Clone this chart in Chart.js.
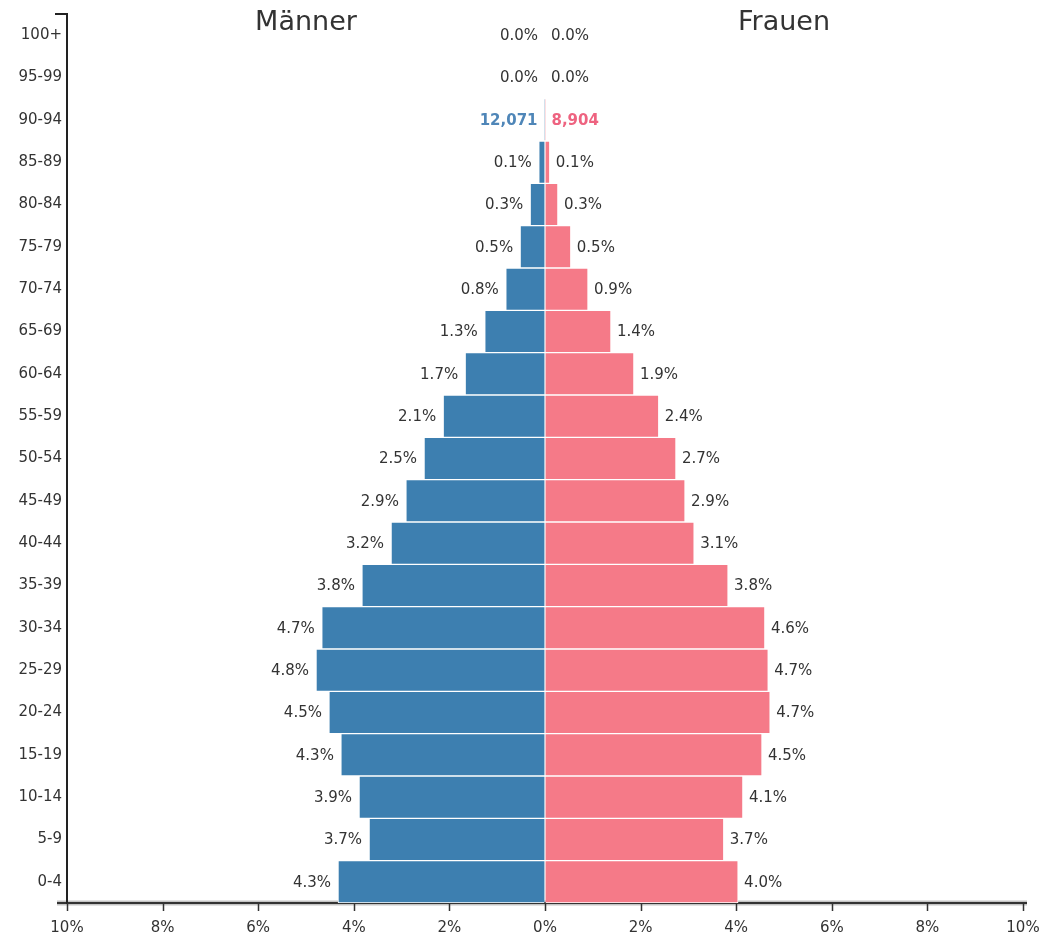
<!DOCTYPE html>
<html>
<head>
<meta charset="utf-8">
<title>Bevölkerungspyramide</title>
<script src="https://cdn.jsdelivr.net/npm/chart.js@4.4.1/dist/chart.umd.min.js"></script>
<style>
    body { margin: 0; background: #fff; }
    #wrap { width: 1043px; height: 940px; }
</style>
</head>
<body>
<div id="wrap"><canvas id="pyramid" width="1043" height="940"></canvas></div>
<script>
var ageGroups = ['100+', '95-99', '90-94', '85-89', '80-84', '75-79', '70-74', '65-69', '60-64', '55-59',
    '50-54', '45-49', '40-44', '35-39', '30-34', '25-29', '20-24', '15-19', '10-14', '5-9', '0-4'];

// Anteil an der Gesamtbevölkerung in %
var malePct = [0, 0, 0.01, 0.13, 0.31, 0.52, 0.82, 1.26, 1.67, 2.13,
    2.53, 2.91, 3.22, 3.83, 4.67, 4.79, 4.52, 4.27, 3.89, 3.68, 4.33];
var femalePct = [0, 0, 0.01, 0.1, 0.27, 0.54, 0.9, 1.38, 1.86, 2.38,
    2.74, 2.93, 3.12, 3.83, 4.6, 4.67, 4.71, 4.54, 4.14, 3.74, 4.04];

// hervorgehobene Gruppe mit absoluten Zahlen
var highlightIndex = 2;
var highlightMale = 12071;
var highlightFemale = 8904;

var xTicks = [-10, -8, -6, -4, -2, 0, 2, 4, 6, 8, 10];

var maleColor = '#3d7fb0';
var femaleColor = '#f57a88';
var textColor = '#333';

Chart.defaults.font.family = '"DejaVu Sans", Verdana, sans-serif';

var axisPlugin = {
    id: 'axisDeco',
    beforeDraw: function(chart) {
        var ctx = chart.ctx;
        var area = chart.chartArea;
        ctx.save();
        // grauer Schatten um die x-Achse
        ctx.strokeStyle = '#c4c4c4';
        ctx.lineWidth = 5;
        ctx.beginPath();
        ctx.moveTo(area.left - 10, area.bottom);
        ctx.lineTo(area.right + 4, area.bottom);
        ctx.stroke();
        ctx.strokeStyle = '#333';
        ctx.lineWidth = 2;
        ctx.beginPath();
        ctx.moveTo(area.left - 10, area.bottom);
        ctx.lineTo(area.right + 4, area.bottom);
        ctx.stroke();
        ctx.restore();
    },
    afterDraw: function(chart) {
        var ctx = chart.ctx;
        var area = chart.chartArea;
        var x = chart.scales.x;
        ctx.save();
        ctx.strokeStyle = '#222';
        ctx.lineWidth = 2;
        ctx.beginPath();
        ctx.moveTo(area.left - 12, area.top);
        ctx.lineTo(area.left + 1, area.top);
        ctx.stroke();

        // Teilstriche unter der x-Achse
        ctx.strokeStyle = '#333';
        ctx.lineWidth = 1.5;
        xTicks.forEach(function(v) {
            var px = Math.round(x.getPixelForValue(v)) + 0.5;
            ctx.beginPath();
            ctx.moveTo(px, area.bottom);
            ctx.lineTo(px, area.bottom + 8);
            ctx.stroke();
        });

        ctx.fillStyle = textColor;
        ctx.font = '27px "DejaVu Sans", sans-serif';
        ctx.textAlign = 'center';
        ctx.textBaseline = 'middle';
        ctx.fillText('Männer', x.getPixelForValue(-5), 23);
        ctx.fillText('Frauen', x.getPixelForValue(5), 23);
        ctx.restore();
    }
};

var labelPlugin = {
    id: 'barLabels',
    afterDatasetsDraw: function(chart) {
        var ctx = chart.ctx;
        var zero = chart.scales.x.getPixelForValue(0);
        ctx.save();
        ctx.textBaseline = 'middle';
        chart.data.datasets.forEach(function(ds, di) {
            var meta = chart.getDatasetMeta(di);
            meta.data.forEach(function(bar, i) {
                var v = Math.abs(ds.data[i]);
                var text = v.toFixed(1) + '%';
                ctx.font = '15px "DejaVu Sans", sans-serif';
                ctx.fillStyle = textColor;
                if (i === highlightIndex) {
                    ctx.font = 'bold 15px "DejaVu Sans", sans-serif';
                    text = (di === 0 ? highlightMale : highlightFemale).toLocaleString('en-US');
                    ctx.fillStyle = di === 0 ? '#4f86b8' : '#ee6380';
                }
                if (di === 0) {
                    ctx.textAlign = 'right';
                    ctx.fillText(text, Math.min(bar.x, zero) - 7, bar.y + 1);
                } else {
                    ctx.textAlign = 'left';
                    ctx.fillText(text, Math.max(bar.x, zero) + 6, bar.y + 1);
                }
            });
        });
        ctx.restore();
    }
};

var ctx = document.getElementById('pyramid').getContext('2d');
var chart = new Chart(ctx, {
    type: 'bar',
    data: {
        labels: ageGroups,
        datasets: [{
            label: 'Männer',
            data: malePct.map(function(v) { return -v; }),
            backgroundColor: maleColor,
            borderColor: '#fff',
            borderWidth: 1,
            borderSkipped: 'start',
            barPercentage: 1,
            categoryPercentage: 1
        }, {
            label: 'Frauen',
            data: femalePct,
            backgroundColor: femaleColor,
            borderColor: '#fff',
            borderWidth: 1,
            borderSkipped: 'start',
            barPercentage: 1,
            categoryPercentage: 1
        }]
    },
    options: {
        indexAxis: 'y',
        responsive: false,
        animation: false,
        layout: {
            padding: { top: 12, right: 20, left: 0, bottom: 0 }
        },
        plugins: {
            legend: { display: false },
            tooltip: { enabled: false }
        },
        scales: {
            x: {
                type: 'linear',
                stacked: true,
                min: -10,
                max: 10,
                afterBuildTicks: function(scale) {
                    scale.ticks = xTicks.map(function(v) { return { value: v }; });
                },
                afterFit: function(scale) {
                    scale.height = 37;
                },
                ticks: {
                    color: textColor,
                    font: { size: 15 },
                    padding: 2,
                    maxRotation: 0,
                    autoSkip: false,
                    callback: function(v) { return Math.abs(v) + '%'; }
                },
                grid: {
                    drawOnChartArea: false,
                    drawTicks: true,
                    tickLength: 14,
                    tickColor: 'rgba(0,0,0,0)'
                },
                border: { display: true, color: '#333', width: 2 }
            },
            y: {
                stacked: true,
                afterFit: function(scale) {
                    scale.width = 67;
                },
                ticks: {
                    color: textColor,
                    font: { size: 15 },
                    padding: 5
                },
                grid: {
                    drawOnChartArea: false,
                    drawTicks: false
                },
                border: { display: true, color: '#222', width: 2 }
            }
        }
    },
    plugins: [axisPlugin, labelPlugin]
});
</script>
</body>
</html>
